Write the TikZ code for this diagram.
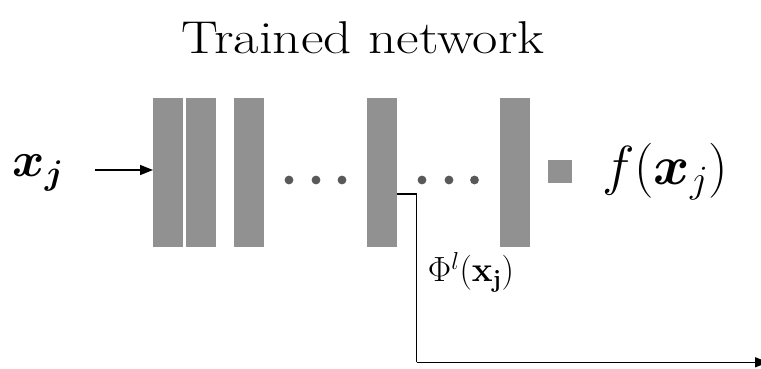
\RequirePackage{fix-cm}
\documentclass[tikz,border=0pt]{standalone}
\usepackage{bm}
\usetikzlibrary{arrows.meta}
\begin{document}
\begin{tikzpicture}[x=1pt,y=-1pt,
  layer/.style={fill=black!43,draw=none},
  dotmark/.style={fill=black!65,draw=none},
  conn/.style={draw=black,line width=1.6pt,-{Triangle[length=13pt,width=10pt]}},
  link/.style={draw=black,line width=1.6pt}]
\useasboundingbox (0,0) rectangle (761,368);
\node[font=\fontsize{46}{50}\selectfont,inner sep=0,xscale=1.2,anchor=base] (title) at (363,53) {Trained network};
\node[font=\fontsize{49}{52}\selectfont,inner sep=0] (xj) at (38,173) {$\bm{x}_{\bm{j}}$};
\path[layer] (153,98) rectangle (183,246.5);
\coordinate (b1) at (153,170);
\path[layer] (186,98) rectangle (216,246.5);
\path[layer] (234,98) rectangle (264,246.5);
\path[layer] (367,98) rectangle (396.5,246.5);
\coordinate (b4out) at (396.5,194);
\path[layer] (500,98) rectangle (530,246.5);
\path[layer] (548,160) rectangle (572,183);
\foreach \x in {289,316,342} {\fill[dotmark] (\x,180) circle (4.4);}
\foreach \x in {422,449,474.5} {\fill[dotmark] (\x,180) circle (4.4);}
\node[font=\fontsize{55}{58}\selectfont,inner sep=0] (fx) at (665,172) {$f(\bm{x}_j)$};
\node[font=\fontsize{35}{38}\selectfont,inner sep=0] (phi) at (471,272) {$\Phi^l(\mathbf{x_j})$};
\coordinate (corner) at (416.5,362.3);
\coordinate (out) at (768,362.3);
\draw[conn] (95,170) -- (b1);
\draw[link] (b4out) -| (corner);
\draw[conn] (corner) -- (out);
\end{tikzpicture}
\end{document}
